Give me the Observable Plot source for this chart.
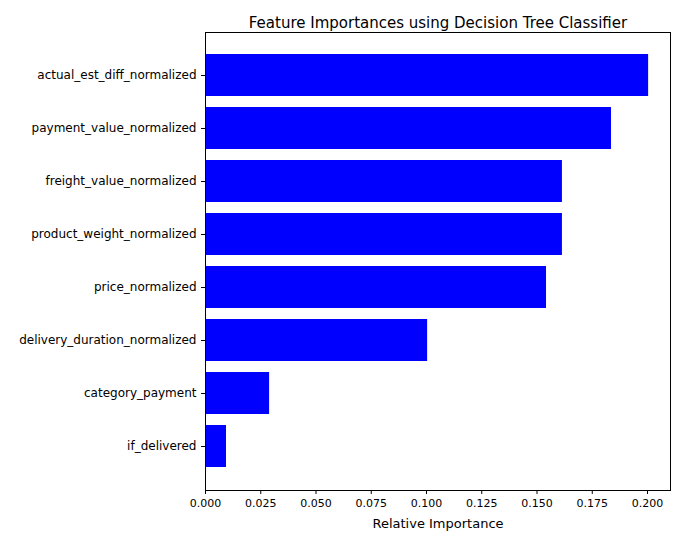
<!DOCTYPE html>
<html>
<head>
<meta charset="utf-8">
<script src="https://cdn.jsdelivr.net/npm/d3@7"></script>
<script src="https://cdn.jsdelivr.net/npm/@observablehq/plot@0.6"></script>
<style>
  body { margin: 0; background: white; font-family: "DejaVu Sans", sans-serif; }
</style>
</head>
<body>
<div id="chart"></div>
<script>
// feature names, top to bottom
const features = [
  'actual_est_diff_normalized',
  'payment_value_normalized',
  'freight_value_normalized',
  'product_weight_normalized',
  'price_normalized',
  'delivery_duration_normalized',
  'category_payment',
  'if_delivered'
]
const importances = [0.2005, 0.1837, 0.1615, 0.1615, 0.1543, 0.1005, 0.029, 0.0095]
const xTicks = [0, 0.025, 0.05, 0.075, 0.1, 0.125, 0.15, 0.175, 0.2]

const data = features.map((f, i) => ({feature: f, value: importances[i]}))

const chart = Plot.plot({
  width: 679,
  height: 544,
  marginLeft: 205,
  marginRight: 9,
  marginTop: 32,
  marginBottom: 54,
  style: {fontFamily: '"DejaVu Sans", sans-serif', fontSize: '11px', color: 'black'},
  x: {domain: [0, 0.2104], paddingOuter: 0},
  y: {domain: features, paddingInner: 0.2, paddingOuter: 0.36},
  marks: [
    Plot.barX(data, {x: 'value', y: 'feature', fill: '#0000ff'}),
    Plot.axisX({ticks: xTicks, tickFormat: d3.format('.3f'), tickSize: 4, fontSize: 11, label: null}),
    Plot.axisY({tickSize: 4, fontSize: 12, label: null}),
    Plot.frame({stroke: 'black'}),
    Plot.text(['Relative Importance'], {frameAnchor: 'bottom', dy: 37, fontSize: 13, fill: 'black'}),
    Plot.text(['Feature Importances using Decision Tree Classifier'], {
      frameAnchor: 'top', dy: -15, fontSize: 15, fill: 'black'
    })
  ]
})

d3.select('#chart').append(() => chart)
</script>
</body>
</html>
